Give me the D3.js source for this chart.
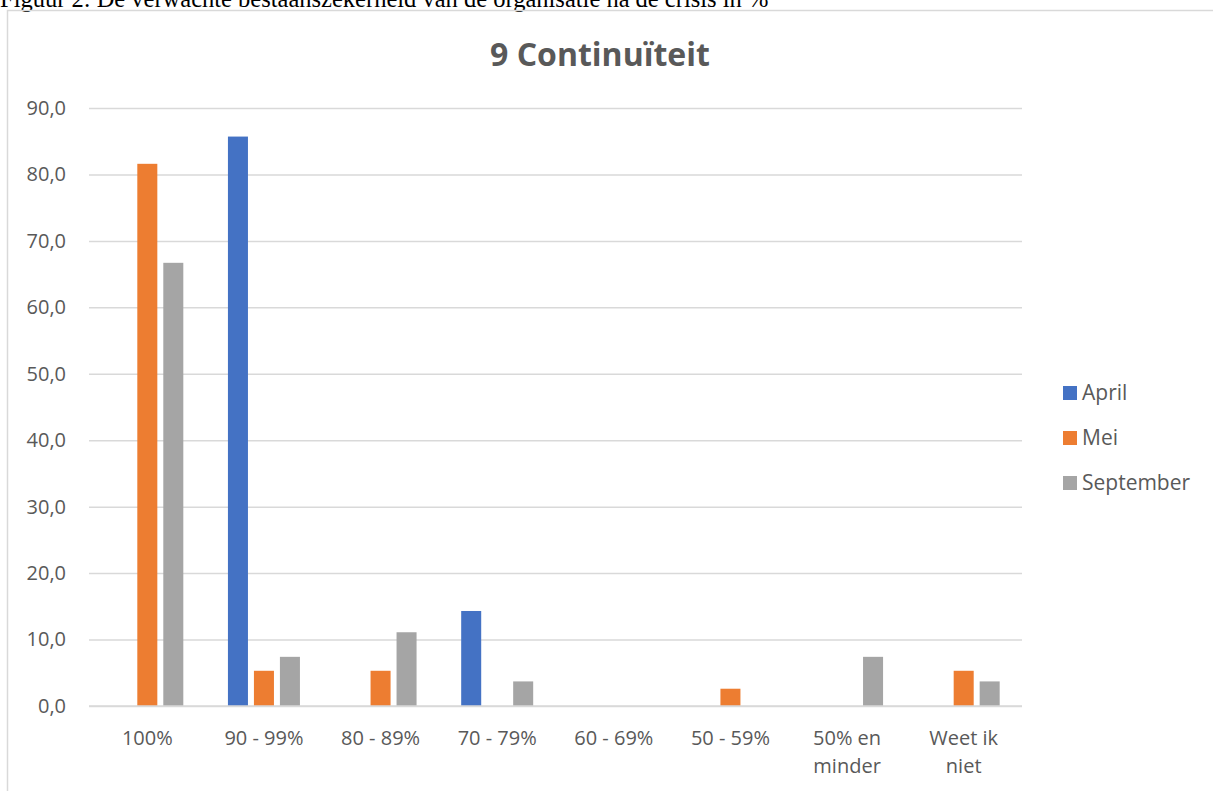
<!DOCTYPE html>
<meta charset="utf-8">
<script src="https://d3js.org/d3.v7.min.js"></script>
<style>
  body { margin: 0; background: #fff; }
  svg { display: block; font-family: "Open Sans", Lato, sans-serif; }
  .grid line { stroke: #d9d9d9; stroke-width: 1.5px; }
  .tick text { fill: #595959; font-family: "Open Sans", Lato, sans-serif; font-size: 20px; }
</style>
<body>
<div id="my_dataviz"></div>
<script>
// data
var categories = ["100%", "90 - 99%", "80 - 89%", "70 - 79%", "60 - 69%", "50 - 59%", "50% en minder", "Weet ik niet"];
var series = ["April", "Mei", "September"];
var april = [0, 85.7, 0, 14.3, 0, 0, 0, 0];
var mei = [81.6, 5.3, 5.3, 0, 0, 2.6, 0, 5.3];
var september = [66.7, 7.4, 11.1, 3.7, 0, 0, 7.4, 3.7];
var yTicks = [0, 10, 20, 30, 40, 50, 60, 70, 80, 90];
var colors = ["#4472C4", "#ED7D31", "#A5A5A5"];

var values = [april, mei, september];
var rows = categories.map(function(c, i) {
  return { cat: c, vals: series.map(function(s, j) { return { key: s, value: values[j][i] }; }) };
});

var W = 1213, H = 791;
var svg = d3.select("#my_dataviz").append("svg")
  .attr("width", W).attr("height", H);

// caption of the figure, cut off by the crop
svg.append("text")
  .attr("x", 0).attr("y", 7)
  .style("font-family", "'Liberation Serif', serif")
  .style("font-size", "24.5px")
  .attr("fill", "#000")
  .text("Figuur 2: De verwachte bestaanszekerheid van de organisatie na de crisis in %");

// chart frame
svg.append("rect")
  .attr("x", 7.5).attr("y", 10.5)
  .attr("width", W).attr("height", H)
  .attr("fill", "none").attr("stroke", "#d9d9d9").attr("stroke-width", 1.5);

var pLeft = 89, pRight = 1022, pTop = 108, pBottom = 706;

var x0 = d3.scaleBand().domain(categories).range([pLeft, pRight]).padding(0);
var x1 = d3.scaleBand().domain(series)
  .range([x0.bandwidth() / 2 - 36, x0.bandwidth() / 2 + 36])
  .paddingInner(0.23);
var y = d3.scaleLinear().domain([0, 90]).range([pBottom, pTop]);
var color = d3.scaleOrdinal().domain(series).range(colors);

// gridlines + y labels
var yAxis = svg.append("g")
  .attr("class", "grid")
  .attr("transform", "translate(" + pLeft + ",0)")
  .call(d3.axisLeft(y).tickValues(yTicks).tickSize(-(pRight - pLeft)).tickPadding(23)
    .tickFormat(function(d) { return d3.format(".1f")(d).replace(".", ","); }));
yAxis.select(".domain").remove();

// bars
svg.append("g").selectAll("g")
  .data(rows)
  .enter().append("g")
  .attr("transform", function(d) { return "translate(" + x0(d.cat) + ",0)"; })
  .selectAll("rect")
  .data(function(d) { return d.vals; })
  .enter().append("rect")
  .attr("x", function(d) { return x1(d.key); })
  .attr("y", function(d) { return y(d.value); })
  .attr("width", x1.bandwidth())
  .attr("height", function(d) { return y(0) - y(d.value); })
  .attr("fill", function(d) { return color(d.key); });

// x labels, wrapped like the original
var xAxis = svg.append("g")
  .attr("transform", "translate(0," + pBottom + ")")
  .call(d3.axisBottom(x0).tickSize(0).tickPadding(25));
xAxis.select(".domain").remove();
xAxis.selectAll(".tick text").each(function(d) {
  var t = d3.select(this);
  var lines = d === "50% en minder" ? ["50% en", "minder"] : d === "Weet ik niet" ? ["Weet ik", "niet"] : [d];
  if (lines.length > 1) {
    t.text(null);
    lines.forEach(function(l, i) {
      t.append("tspan").attr("x", 0).attr("dy", i === 0 ? "0.71em" : "1.4em").text(l);
    });
    t.attr("dy", null);
  }
});
// zero line on top of the bars' base
svg.append("line")
  .attr("x1", pLeft).attr("x2", pRight).attr("y1", y(0)).attr("y2", y(0))
  .attr("stroke", "#d9d9d9").attr("stroke-width", 1.5);

// title
svg.append("text")
  .attr("x", 600).attr("y", 66)
  .attr("text-anchor", "middle")
  .style("font-size", "32px").style("font-weight", "bold")
  .attr("fill", "#595959")
  .text("9 Continuïteit");

// legend
var legend = svg.append("g").selectAll("g")
  .data(series)
  .enter().append("g")
  .attr("transform", function(d, i) { return "translate(1063," + (386 + i * 45) + ")"; });
legend.append("rect")
  .attr("width", 14).attr("height", 14)
  .attr("fill", function(d) { return color(d); });
legend.append("text")
  .attr("x", 19).attr("y", 14)
  .style("font-size", "21px").attr("fill", "#595959")
  .text(function(d) { return d; });
</script>
</body>
